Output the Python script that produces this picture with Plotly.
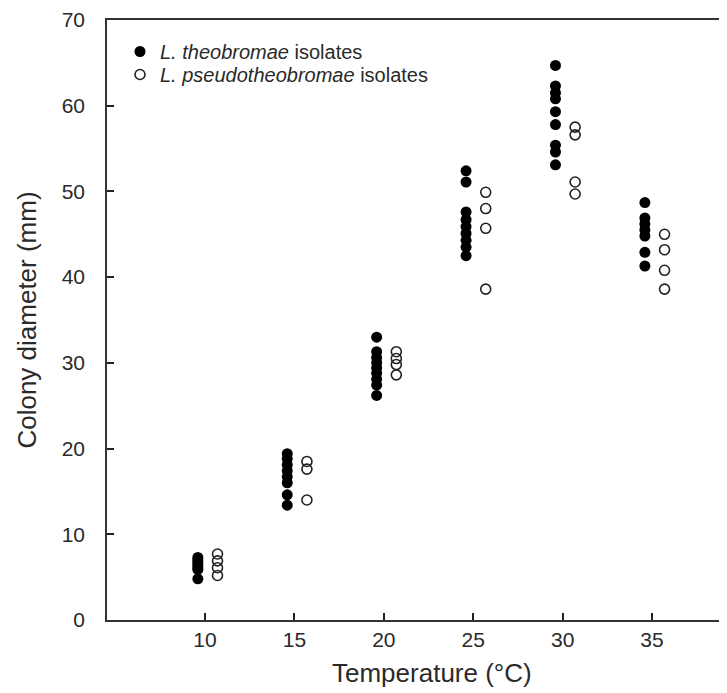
import plotly.graph_objects as go

# Temperatures (°C) and colony diameters (mm)
temps = [10, 15, 20, 25, 30, 35]

theo_10 = [7.3, 7.0, 6.7, 6.4, 6.1, 5.9, 4.8]
theo_15 = [19.4, 18.8, 18.1, 17.4, 16.7, 16.0, 14.6, 13.4]
theo_20 = [33.0, 31.3, 30.6, 30.0, 29.4, 28.8, 28.1, 27.4, 26.2]
theo_25 = [52.4, 51.1, 47.6, 46.7, 45.9, 45.1, 44.3, 43.5, 42.5]
theo_30 = [64.7, 62.3, 61.5, 60.8, 59.3, 57.8, 55.4, 54.6, 53.1]
theo_35 = [48.7, 46.9, 46.2, 45.5, 44.8, 42.9, 41.3]

pseudo_10 = [7.7, 6.9, 6.1, 5.2]
pseudo_15 = [18.5, 17.6, 14.0]
pseudo_20 = [31.3, 30.5, 29.8, 28.6]
pseudo_25 = [49.9, 48.0, 45.7, 38.6]
pseudo_30 = [57.5, 56.6, 51.1, 49.7]
pseudo_35 = [45.0, 43.2, 40.8, 38.6]

theo_sets = [theo_10, theo_15, theo_20, theo_25, theo_30, theo_35]
pseudo_sets = [pseudo_10, pseudo_15, pseudo_20, pseudo_25, pseudo_30, pseudo_35]

theo_shift = -0.4    # horizontal offset of each series around its temperature
pseudo_shift = 0.7

tx, ty, px_, py_ = [], [], [], []
for t, vals in zip(temps, theo_sets):
    tx += [t + theo_shift] * len(vals)
    ty += vals
for t, vals in zip(temps, pseudo_sets):
    px_ += [t + pseudo_shift] * len(vals)
    py_ += vals

FONT = "Liberation Sans, Arial, sans-serif"
TXT = "#2a2a2a"

fig = go.Figure()
fig.add_trace(go.Scatter(
    x=tx, y=ty, mode="markers",
    name="<i>L. theobromae</i> isolates", legend="legend",
    marker=dict(symbol="circle", size=11, color="black", line=dict(width=0)),
))
fig.add_trace(go.Scatter(
    x=px_, y=py_, mode="markers",
    name="<i>L. pseudotheobromae</i> isolates", legend="legend2",
    marker=dict(symbol="circle-open", size=10, color="#222", line=dict(width=1.6, color="#222")),
))

leg_common = dict(xanchor="left", yanchor="middle", bgcolor="rgba(0,0,0,0)",
                  font=dict(family=FONT, size=20, color=TXT), borderwidth=0)

fig.update_layout(
    width=727, height=693,
    margin=dict(l=99, r=0, t=12, b=81),
    paper_bgcolor="white", plot_bgcolor="white",
    font=dict(family=FONT, size=21, color=TXT),
    showlegend=True,
    legend=dict(x=0.0207, y=0.9475, **leg_common),
    legend2=dict(x=0.0207, y=0.9092, **leg_common),
    xaxis=dict(
        range=[4.52, 39.64], tickvals=temps, ticktext=[str(t) for t in temps],
        ticks="inside", ticklen=7, tickwidth=1.5, tickcolor="#222",
        showline=True, linecolor="#333", linewidth=1.5, mirror=True,
        showgrid=False, zeroline=False, automargin=False,
        tickfont=dict(size=21, color=TXT),
    ),
    yaxis=dict(
        range=[0, 70], tickvals=[0, 10, 20, 30, 40, 50, 60, 70],
        ticks="inside", ticklen=7, tickwidth=1.5, tickcolor="#222",
        showline=True, linecolor="#333", linewidth=1.5,
        showgrid=False, zeroline=False, ticklabelstandoff=16, automargin=False,
        title=dict(text="Colony diameter (mm)", font=dict(size=26, color=TXT), standoff=18),
        tickfont=dict(size=21, color=TXT),
    ),
    annotations=[dict(
        text="Temperature (°C)", xref="paper", yref="paper",
        x=0.5175, y=-0.088, xanchor="center", yanchor="middle",
        showarrow=False, font=dict(family=FONT, size=26, color=TXT),
    )],
)

fig.write_html("out.html")
